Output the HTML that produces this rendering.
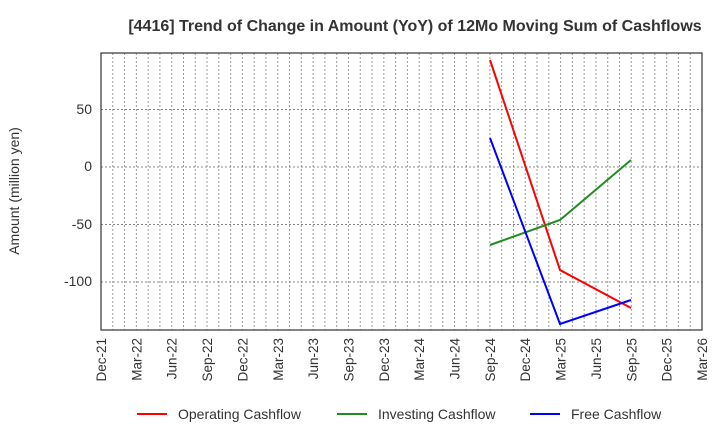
<!DOCTYPE html>
<html><head><style>body{margin:0;background:#fff}</style></head><body>
<svg width="720" height="440" xmlns="http://www.w3.org/2000/svg" font-family="Liberation Sans, Arial, sans-serif">
<text x="415" y="31" text-anchor="middle" font-size="16" font-weight="bold" fill="#333">[4416]  Trend of Change in Amount (YoY) of 12Mo Moving Sum of Cashflows</text>
<g id="grid" stroke="#999" stroke-width="1" stroke-dasharray="2,2"></g>
<g stroke="#888" stroke-dasharray="2,2">
<line x1="101" y1="109.5" x2="702" y2="109.5"/><line x1="101" y1="167" x2="702" y2="167"/>
<line x1="101" y1="224.5" x2="702" y2="224.5"/><line x1="101" y1="282" x2="702" y2="282"/>
</g>
<rect x="101" y="53" width="601" height="277" fill="none" stroke="#333" stroke-width="1.2"/>
<g font-size="14" fill="#333" text-anchor="end">
<text x="92" y="114">50</text><text x="92" y="171">0</text><text x="92" y="229">-50</text><text x="92" y="286">-100</text>
</g>
<text transform="translate(19,191) rotate(-90)" text-anchor="middle" font-size="14" fill="#333">Amount (million yen)</text>
<g id="xl" font-size="13.5" fill="#333"></g>
<polyline points="490,60 560,270 631,308" fill="none" stroke="#f00" stroke-width="2"/>
<polyline points="490,245 560,220 631,160" fill="none" stroke="#228B22" stroke-width="2"/>
<polyline points="490,138 560,324 631,300" fill="none" stroke="#00f" stroke-width="2"/>
<g font-size="14" fill="#333">
<line x1="137" y1="414" x2="167" y2="414" stroke="#f00" stroke-width="2"/><text x="178" y="419">Operating Cashflow</text>
<line x1="337" y1="414" x2="367" y2="414" stroke="#228B22" stroke-width="2"/><text x="378" y="419">Investing Cashflow</text>
<line x1="530" y1="414" x2="560" y2="414" stroke="#00f" stroke-width="2"/><text x="571" y="419">Free Cashflow</text>
</g>
<script>
var g=document.getElementById('grid'),xl=document.getElementById('xl'),ns='http://www.w3.org/2000/svg';
for(var m=1;m<51;m++){var x=101+m*601/51;var l=document.createElementNS(ns,'line');l.setAttribute('x1',x);l.setAttribute('x2',x);l.setAttribute('y1',53);l.setAttribute('y2',330);g.appendChild(l);}
var labs=['Dec-21','Mar-22','Jun-22','Sep-22','Dec-22','Mar-23','Jun-23','Sep-23','Dec-23','Mar-24','Jun-24','Sep-24','Dec-24','Mar-25','Jun-25','Sep-25','Dec-25','Mar-26'];
labs.forEach(function(s,i){var x=101+i*3*601/51;var t=document.createElementNS(ns,'text');t.setAttribute('transform','translate('+(x+5)+',338) rotate(-90)');t.setAttribute('text-anchor','end');t.textContent=s;xl.appendChild(t);});
</script>
</svg>
</body></html>
